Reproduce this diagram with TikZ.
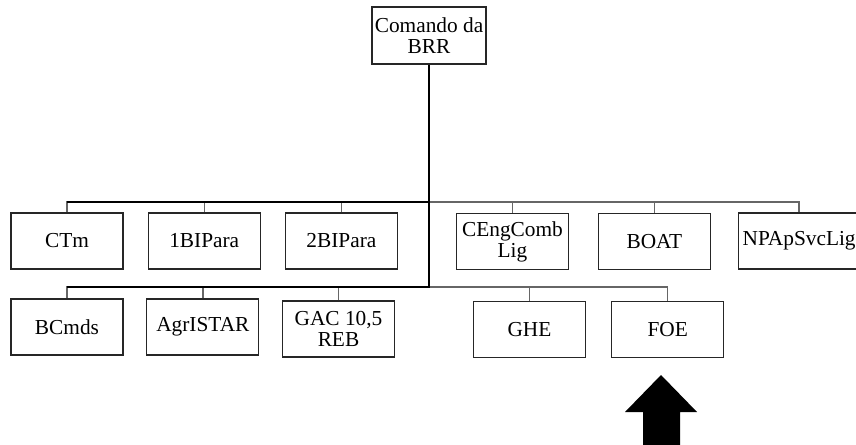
\documentclass[tikz,border=0pt]{standalone}
\usepackage{fontspec}
\setmainfont{Liberation Serif}
\usepackage{tikz}
\usetikzlibrary{positioning, calc}
\tikzset{
    base/.style={draw=black!85, line width=0.9pt, font=\fontsize{16}{16}\selectfont, align=center, inner sep=2pt},
    block/.style={base, rectangle, minimum width=84pt, minimum height=42pt},
    trunk/.style={draw=black, line width=1.6pt},
    branch/.style={draw=black!60, line width=1pt}
}

\begin{document}
\begin{tikzpicture}[x=0.75pt, y=-0.75pt]
    \useasboundingbox (0,0) rectangle (856,445);
    % head of the chart
    \node [block, minimum width=85.5pt, minimum height=42.75pt] (BRR) at (429,35.5) {Comando da\\BRR};
    % first row
    \node [block] (CTm) at (67,241) {CTm};
    \node [block, right=18pt of CTm] (IBIPara) {1BIPara};
    \node [block, right=18pt of IBIPara] (IIBIPara) {2BIPara};
    \node [block, anchor=north, inner sep=1pt] (CEng) at (512.5,213) {CEngComb\\Lig};
    \node [block, right=21.5pt of CEng] (BOAT) {BOAT};
    \node [block, anchor=west, inner sep=3pt] (NPAp) at (738,241) {NPApSvcLig};
    % second row
    \node [block] (BCmds) at (67,327) {BCmds};
    \node [block, right=17pt of BCmds] (AgrISTAR) {AgrISTAR};
    \node [block] (GAC) at (338.5,329) {GAC 10,5\\REB};
    \node [block] (GHE) at (529.5,329.5) {GHE};
    \node [block, right=18.75pt of GHE] (FOE) {FOE};
    % buses
    \coordinate (upbus) at (429,202);
    \coordinate (lowbus) at (429,287);
    \foreach \n in {CTm, IBIPara, IIBIPara, CEng, BOAT, NPAp}
        \draw [branch] (\n.north -| \n) |- (upbus);
    \foreach \n in {BCmds, AgrISTAR, GAC, GHE, FOE}
        \draw [branch] (\n.north) |- (lowbus);
    \draw [trunk] (BRR.south) -- (lowbus) -- (lowbus -| BCmds);
    \draw [trunk] (upbus) -- (upbus -| CTm);
    % arrow pointing at FOE
    \fill [black] (661,375) -- (697,412) -- (680,412) -- (680,445) -- (643,445) -- (643,412) -- (625,412) -- cycle;
\end{tikzpicture}
\end{document}
